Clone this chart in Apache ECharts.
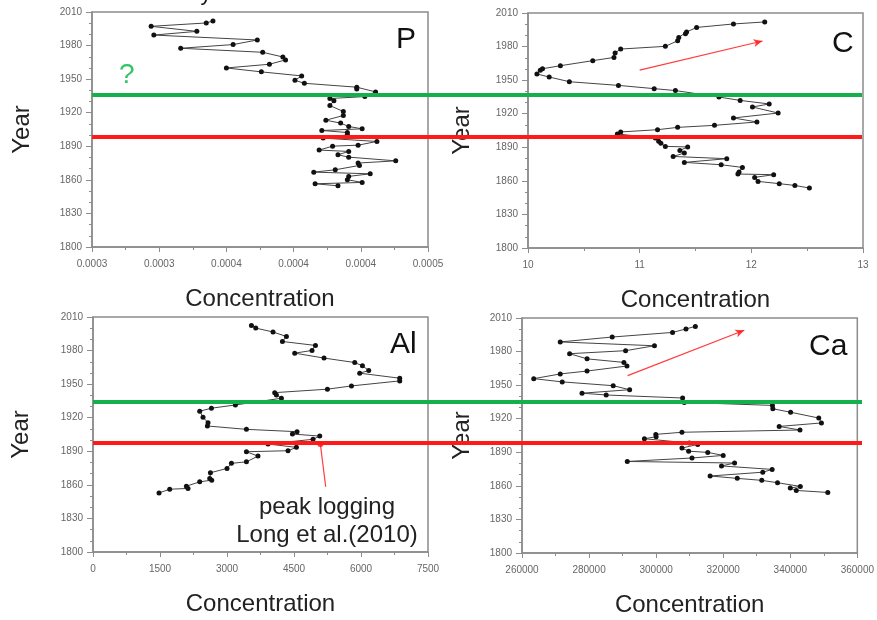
<!DOCTYPE html>
<html>
<head>
<meta charset="utf-8">
<script src="https://cdn.jsdelivr.net/npm/echarts@6/dist/echarts.min.js"></script>
<style>
  html, body { margin: 0; padding: 0; background: #fff; }
  #chart { width: 877px; height: 620px; }
</style>
</head>
<body>
<div id="chart"></div>
<script>
// sediment core profiles (year vs concentration)
const pYear = [2002.0, 2000.2, 1997.2, 1992.7, 1989.4, 1985.0, 1980.9, 1977.6, 1974.0, 1969.8, 1967.2, 1963.3, 1960.0, 1956.5, 1952.9, 1949.0, 1946.3, 1942.8, 1941.3, 1938.6, 1934.4, 1932.7, 1930.6, 1926.4, 1921.1, 1917.5, 1913.3, 1910.7, 1907.7, 1905.6, 1904.1, 1902.3, 1900.2, 1897.3, 1894.3, 1891.0, 1890.1, 1886.6, 1885.4, 1882.4, 1880.3, 1877.0, 1875.0, 1872.9, 1869.0, 1866.9, 1865.4, 1863.1, 1860.1, 1857.7, 1856.5, 1854.7];
const pConc = [0.000340, 0.000335, 0.000294, 0.000328, 0.000296, 0.000373, 0.000355, 0.000316, 0.000377, 0.000392, 0.000394, 0.000382, 0.000350, 0.000376, 0.000406, 0.000401, 0.000408, 0.000447, 0.000447, 0.000461, 0.000453, 0.000427, 0.000430, 0.000427, 0.000437, 0.000437, 0.000424, 0.000435, 0.000441, 0.000451, 0.000421, 0.000440, 0.000440, 0.000422, 0.000462, 0.000448, 0.000429, 0.000419, 0.000441, 0.000433, 0.000441, 0.000476, 0.000448, 0.000449, 0.000431, 0.000415, 0.000457, 0.000441, 0.000440, 0.000451, 0.000416, 0.000433];

const cYear = [2002.0, 2000.2, 1997.1, 1993.0, 1991.5, 1988.2, 1985.2, 1980.2, 1977.8, 1974.3, 1970.3, 1967.4, 1962.9, 1960.2, 1958.9, 1955.5, 1952.8, 1948.6, 1945.3, 1942.4, 1940.7, 1934.9, 1931.9, 1928.7, 1926.0, 1920.6, 1916.2, 1912.6, 1909.6, 1907.8, 1905.7, 1903.7, 1901.9, 1898.3, 1895.3, 1893.6, 1890.8, 1890.3, 1887.2, 1884.9, 1881.8, 1879.8, 1876.5, 1874.4, 1872.0, 1867.9, 1866.1, 1865.5, 1863.1, 1859.5, 1857.5, 1855.9, 1853.6];
const cConc = [12.12, 11.84, 11.51, 11.42, 11.41, 11.35, 11.34, 11.23, 10.83, 10.78, 10.77, 10.58, 10.29, 10.13, 10.11, 10.08, 10.19, 10.37, 10.81, 11.13, 11.32, 11.71, 11.90, 12.16, 12.01, 12.24, 11.84, 12.05, 11.67, 11.34, 11.16, 10.83, 10.80, 11.14, 11.17, 11.19, 11.23, 11.43, 11.36, 11.40, 11.30, 11.78, 11.40, 11.73, 11.92, 11.89, 11.88, 12.20, 12.03, 12.06, 12.25, 12.39, 12.52];

const alYear = [2002.5, 2000.1, 1996.6, 1992.6, 1988.1, 1984.6, 1980.1, 1977.7, 1973.3, 1969.3, 1966.4, 1962.2, 1959.8, 1955.3, 1952.9, 1948.4, 1945.5, 1942.4, 1940.4, 1937.4, 1931.4, 1928.5, 1925.8, 1920.4, 1915.6, 1912.6, 1909.6, 1907.5, 1905.4, 1903.6, 1900.7, 1896.5, 1893.5, 1890.5, 1889.6, 1885.7, 1880.6, 1879.2, 1874.7, 1870.8, 1865.7, 1864.2, 1862.7, 1858.8, 1856.8, 1856.1, 1852.8];
const alConc = [3547, 3643, 4030, 4330, 4241, 4980, 4903, 4516, 5172, 5860, 6032, 6173, 5971, 6867, 6867, 5786, 5248, 4068, 4106, 4218, 3188, 2651, 2389, 2463, 2575, 2561, 3435, 4568, 4465, 5076, 4926, 3918, 4554, 4366, 3435, 3694, 3435, 3099, 3000, 2629, 2613, 2658, 2389, 2091, 2127, 1717, 1478];

const caYear = [2002.5, 2000.2, 1997.1, 1993.0, 1988.6, 1985.2, 1980.8, 1978.1, 1973.5, 1970.3, 1967.1, 1962.6, 1960.0, 1955.8, 1952.9, 1949.5, 1945.9, 1942.8, 1941.2, 1938.5, 1934.6, 1931.9, 1928.9, 1925.8, 1920.6, 1916.2, 1913.1, 1909.9, 1907.9, 1906.0, 1903.9, 1902.1, 1898.3, 1897.0, 1893.8, 1891.0, 1889.9, 1887.2, 1884.9, 1881.8, 1880.4, 1877.8, 1874.7, 1872.2, 1868.8, 1866.7, 1864.9, 1862.8, 1859.5, 1858.1, 1855.9, 1854.1];
const caConc = [311700, 308900, 304900, 286900, 271400, 299500, 290900, 274200, 279400, 290400, 291300, 279400, 271400, 263500, 272000, 287200, 292100, 277900, 285100, 307900, 308400, 334700, 334800, 340100, 348500, 349300, 336700, 342900, 307700, 299900, 300000, 296500, 309900, 312400, 307700, 309700, 315400, 320000, 310700, 291400, 323400, 319500, 334600, 331800, 316100, 324200, 331500, 336200, 343000, 340000, 341800, 351200];

const panelNames = ['P', 'C', 'Al', 'Ca'];
const pTickLabels = ['0.0003', '0.0003', '0.0004', '0.0004', '0.0004', '0.0005'];

// green / red horizons (years)
const topLines = [1935.8, 1898.6];
const bottomLines = [1934.4, 1898.0];

// trend arrows and the logging note, in data units
const cArrow = [[11.0, 1959], [12.1, 1985]];
const caArrow = [[291500, 1958.5], [326300, 1999]];
const alNote = [[5090, 1896.5], [5209, 1858.3]];

const GREEN = '#14b04c';
const RED = '#ff1a1a';
const AXIS = '#8c8c8c';
const FONT = 'Liberation Sans';

function pairs(xs, ys) {
  return ys.map((y, i) => [xs[i], y]);
}

const plain = v => String(v);

function yAxis(idx, gap) {
  return {
    gridIndex: idx, type: 'value', min: 1800, max: 2010, interval: 30,
    name: 'Year', nameLocation: 'middle', nameGap: gap, nameRotate: 90,
    nameTextStyle: { fontSize: 24, color: '#222', fontFamily: FONT },
    axisLine: { show: true, lineStyle: { color: AXIS, width: 1.5 } },
    axisTick: { show: true, length: 6, lineStyle: { color: AXIS } },
    minorTick: { show: true, splitNumber: 3, length: 3, lineStyle: { color: AXIS } },
    axisLabel: { fontSize: 10, color: '#666', margin: 10, fontFamily: FONT, formatter: plain },
    splitLine: { show: false }
  };
}

function xAxis(idx, min, max, interval, fmt) {
  return {
    gridIndex: idx, type: 'value', min: min, max: max, interval: interval,
    name: 'Concentration', nameLocation: 'middle', nameGap: 40,
    nameTextStyle: { fontSize: 24, color: '#222', fontFamily: FONT },
    axisLine: { show: true, lineStyle: { color: AXIS, width: 1.5 } },
    axisTick: { show: true, length: 5, lineStyle: { color: AXIS } },
    minorTick: { show: true, splitNumber: 2, length: 3, lineStyle: { color: AXIS } },
    axisLabel: { fontSize: 10, color: '#666', margin: 12, fontFamily: FONT, formatter: fmt || plain },
    splitLine: { show: false }
  };
}

function profile(idx, data, extra) {
  return Object.assign({
    type: 'line', xAxisIndex: idx, yAxisIndex: idx, data: data,
    symbol: 'circle', symbolSize: 5, showSymbol: true,
    itemStyle: { color: '#111' },
    lineStyle: { color: '#444', width: 1 },
    z: 2
  }, extra || {});
}

function arrow(coords, startSym, endSym) {
  return {
    silent: true, symbol: [startSym, endSym], symbolSize: [6, 9],
    label: { show: false },
    lineStyle: { color: RED, width: 1.2, type: 'solid', opacity: 0.85 },
    data: [[{ coord: coords[0] }, { coord: coords[1] }]]
  };
}

function horizons(idx, years) {
  return {
    type: 'line', xAxisIndex: idx, yAxisIndex: idx, data: [], z: 10,
    markLine: {
      silent: true, symbol: 'none', label: { show: false },
      data: [
        { yAxis: years[0], lineStyle: { color: GREEN, width: 4, type: 'solid' } },
        { yAxis: years[1], lineStyle: { color: RED, width: 4, type: 'solid' } }
      ]
    }
  };
}

const frame = { show: true, borderColor: AXIS, borderWidth: 1.5, backgroundColor: 'transparent' };

const option = {
  animation: false,
  textStyle: { fontFamily: FONT },
  grid: [
    Object.assign({ left: 92, top: 12, width: 336, height: 235 }, frame),
    Object.assign({ left: 528, top: 13, width: 335, height: 235 }, frame),
    Object.assign({ left: 93, top: 317, width: 335, height: 235 }, frame),
    Object.assign({ left: 522, top: 318, width: 336, height: 235 }, frame),
    { left: 92, top: 12, width: 770, height: 235 },
    { left: 93, top: 317, width: 769, height: 235 }
  ],
  xAxis: [
    xAxis(0, 0.00025, 0.0005, 0.00005, v => pTickLabels[Math.round((v - 0.00025) / 0.00005)] || ''),
    xAxis(1, 10, 13, 1),
    xAxis(2, 0, 7500, 1500),
    xAxis(3, 260000, 360000, 20000),
    { gridIndex: 4, type: 'value', min: 0, max: 1, show: false },
    { gridIndex: 5, type: 'value', min: 0, max: 1, show: false }
  ],
  yAxis: [
    yAxis(0, 58),
    yAxis(1, 54),
    yAxis(2, 60),
    yAxis(3, 48),
    { gridIndex: 4, type: 'value', min: 1800, max: 2010, show: false },
    { gridIndex: 5, type: 'value', min: 1800, max: 2010, show: false }
  ],
  series: [
    profile(0, pairs(pConc, pYear)),
    profile(1, pairs(cConc, cYear), { markLine: arrow(cArrow, 'none', 'arrow') }),
    profile(2, pairs(alConc, alYear), { markLine: arrow(alNote, 'circle', 'none') }),
    profile(3, pairs(caConc, caYear), { markLine: arrow(caArrow, 'none', 'arrow') }),
    horizons(4, topLines),
    horizons(5, bottomLines)
  ],
  graphic: [
    { type: 'text', left: 396, top: 25, style: { text: panelNames[0], fontSize: 30, fill: '#111', fontFamily: FONT } },
    { type: 'text', left: 832, top: 29, style: { text: panelNames[1], fontSize: 30, fill: '#111', fontFamily: FONT } },
    { type: 'text', left: 390, top: 330, style: { text: panelNames[2], fontSize: 30, fill: '#111', fontFamily: FONT } },
    { type: 'text', left: 809, top: 332, style: { text: panelNames[3], fontSize: 30, fill: '#111', fontFamily: FONT } },
    { type: 'text', left: 119, top: 61, style: { text: '?', fontSize: 28, fill: '#33c466', fontFamily: FONT } },
    { type: 'text', x: 327, y: 507, style: { text: 'peak logging', fontSize: 24, fill: '#222', fontFamily: FONT, align: 'center', verticalAlign: 'middle' } },
    { type: 'text', x: 327, y: 535, style: { text: 'Long et al.(2010)', fontSize: 24, fill: '#222', fontFamily: FONT, align: 'center', verticalAlign: 'middle' } },
    { type: 'text', x: 206, y: 5, style: { text: 'y', fontSize: 22, fill: '#111', fontFamily: FONT, align: 'center', verticalAlign: 'bottom' } }
  ]
};

const chart = echarts.init(document.getElementById('chart'));
chart.setOption(option);
</script>
</body>
</html>
